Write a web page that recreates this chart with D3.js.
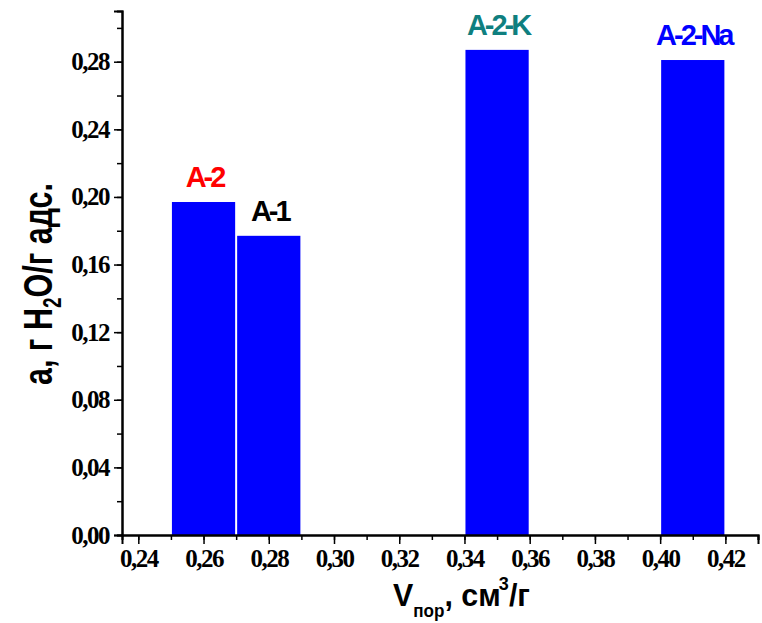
<!DOCTYPE html>
<html>
<head>
<meta charset="utf-8">
<script src="https://cdn.jsdelivr.net/npm/d3@7"></script>
<style>
  body { margin: 0; background: #fff; }
</style>
</head>
<body>
<div id="chart"></div>
<script>
const samples = ['A-2', 'A-1', 'A-2-K', 'A-2-Na'];
const poreVolume = [0.26, 0.28, 0.35, 0.41];
const adsorption = [0.197, 0.177, 0.287, 0.281];
const labelColors = ['#ff0000', '#000000', '#0f7f7f', '#0000ff'];
const xTicks = [0.24, 0.26, 0.28, 0.30, 0.32, 0.34, 0.36, 0.38, 0.40, 0.42];
const yTicks = [0.00, 0.04, 0.08, 0.12, 0.16, 0.20, 0.24, 0.28];
const barWidth = 0.02;

const width = 762;
const height = 623;
const margin = { top: 11, right: 4, bottom: 88, left: 122 };

const sans = '"Liberation Sans", Arial, sans-serif';
const serif = '"Liberation Serif", "Times New Roman", serif';

const svg = d3.select('#chart')
  .append('svg')
  .attr('width', width)
  .attr('height', height);

const x = d3.scaleLinear()
  .domain([0.235, 0.43])
  .range([margin.left, width - margin.right]);

const y = d3.scaleLinear()
  .domain([0, 0.31])
  .range([height - margin.bottom, margin.top]);

const fmt = (v) => d3.format('.2f')(v).replace('.', ',');

// bars
svg.append('g')
  .selectAll('rect')
  .data(samples)
  .enter()
  .append('rect')
  .attr('x', (d, i) => x(poreVolume[i] - barWidth / 2) + 1)
  .attr('width', (d, i) => x(poreVolume[i] + barWidth / 2) - x(poreVolume[i] - barWidth / 2) - 2)
  .attr('y', (d, i) => y(adsorption[i]))
  .attr('height', (d, i) => y(0) - y(adsorption[i]))
  .attr('fill', '#0000ff');

// bar labels
svg.append('g')
  .selectAll('text')
  .data(samples)
  .enter()
  .append('text')
  .style('font-family', sans)
  .style('font-weight', 'bold')
  .style('font-size', '29px')
  .attr('x', (d, i) => x(poreVolume[i]) + 1)
  .attr('y', (d, i) => y(adsorption[i]) - 15)
  .attr('text-anchor', 'middle')
  .attr('letter-spacing', -3)
  .attr('fill', (d, i) => labelColors[i])
  .text((d) => d);

function styleAxis(g) {
  g.attr('font-family', serif).attr('font-size', 25).attr('font-weight', 'bold');
  g.selectAll('.domain').attr('stroke', '#000').attr('stroke-width', 2);
  g.selectAll('line').attr('stroke', '#000').attr('stroke-width', 1.5);
  g.selectAll('g').attr('font-family', serif).attr('font-size', 25);
  g.selectAll('text')
    .attr('fill', '#000')
    .attr('letter-spacing', -1.5);
}

// x axis
const xMinor = d3.range(0.24, 0.4301, 0.01).map((v) => +v.toFixed(2));
const xAxis = svg.append('g')
  .attr('transform', `translate(0,${y(0)})`);
xAxis.call(d3.axisBottom(x).tickValues(xMinor).tickSize(5).tickFormat(''));
xAxis.append('g').call(d3.axisBottom(x).tickValues(xTicks).tickSize(9).tickPadding(5).tickFormat(fmt));
styleAxis(xAxis);

// y axis
const yMinor = d3.range(0, 0.3101, 0.02).map((v) => +v.toFixed(2));
const yAxis = svg.append('g')
  .attr('transform', `translate(${margin.left},0)`);
yAxis.call(d3.axisLeft(y).tickValues(yMinor).tickSize(5).tickFormat(''));
yAxis.append('g').call(d3.axisLeft(y).tickValues(yTicks).tickSize(8).tickPadding(5).tickFormat(fmt));
styleAxis(yAxis);

// x title
const xt = svg.append('text')
  .style('font-family', sans)
  .style('font-weight', 'bold')
  .style('font-size', '32px')
  .attr('x', 393)
  .attr('y', 606)
  .attr('textLength', 137)
  .attr('lengthAdjust', 'spacingAndGlyphs');
xt.append('tspan').text('V');
xt.append('tspan').style('font-size', '18px').attr('dy', 11).text('пор');
xt.append('tspan').attr('dy', -11).text(', см');
xt.append('tspan').style('font-size', '19px').attr('dy', -16).attr('dx', -2).text('3');
xt.append('tspan').attr('dy', 16).text('/г');

// y title
const yt = svg.append('text')
  .style('font-family', sans)
  .style('font-weight', 'bold')
  .style('font-size', '40px')
  .attr('transform', 'translate(52,385) rotate(-90)')
  .attr('textLength', 202)
  .attr('lengthAdjust', 'spacingAndGlyphs');
yt.append('tspan').text('а, г H');
yt.append('tspan').style('font-size', '25px').attr('dy', 9).text('2');
yt.append('tspan').attr('dy', -9).text('O/г адс.');
</script>
</body>
</html>
